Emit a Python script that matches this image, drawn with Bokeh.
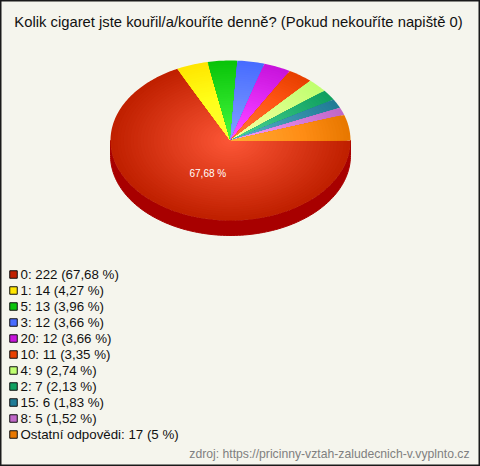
import numpy as np
from bokeh.plotting import figure
from bokeh.models import Range1d
from bokeh.embed import file_html
from bokeh.resources import INLINE
from bokeh.core.properties import value

TITLE = "Kolik cigaret jste kouřil/a/kouříte denně? (Pokud nekouříte napiště 0)"
SOURCE = "zdroj: https://pricinny-vztah-zaludecnich-v.vyplnto.cz"
categories = ["0", "1", "5", "3", "20", "10", "4", "2", "15", "8", "Ostatní odpovědi"]
counts = [222, 14, 13, 12, 12, 11, 9, 7, 6, 5, 17]
percents = ["67,68", "4,27", "3,96", "3,66", "3,66", "3,35", "2,74", "2,13", "1,83", "1,52", "5"]
colors = [(192, 32, 0), (255, 230, 0), (10, 196, 10), (72, 108, 255), (200, 20, 220), (232, 64, 0),
          (192, 255, 112), (16, 160, 96), (32, 124, 150), (192, 104, 200), (232, 120, 0)]
RIM = "#a80000"
BG = "#f5f5ed"

W, H = 480, 466
CX, CY, RX, RY, DEPTH = 230, 140, 120, 80, 15
STEPS = 36
LIFT = (62, 56, 56)

p = figure(width=W, height=H, output_backend="svg", toolbar_location=None,
           x_range=Range1d(0, W), y_range=Range1d(H, 0),
           min_border=0, border_fill_color=BG, background_fill_color=BG,
           outline_line_color="#1a1a1a", outline_line_width=2)
p.axis.visible = False
p.grid.visible = False

# side of the pie
t = np.linspace(0, np.pi, 120)
xs_rim = np.concatenate([CX + RX * np.cos(t), (CX + RX * np.cos(t))[::-1]])
ys_rim = np.concatenate([CY + DEPTH + RY * np.sin(t), (CY + RY * np.sin(t))[::-1]])
p.patch(xs_rim, ys_rim, fill_color=RIM, line_color=RIM, line_width=1)

# slices, clockwise from 3 o'clock, each shaded from rim to centre
ang = np.concatenate([[0], np.cumsum(counts)]) / sum(counts) * 2 * np.pi
px, py, pc = [], [], []
for i, c in enumerate(colors):
    a = np.linspace(ang[i], ang[i + 1], max(3, int((ang[i + 1] - ang[i]) * 60)))
    for s in range(STEPS):
        r = 1 - s / STEPS
        k = 1 - r
        col = tuple(int(min(255, c[j] + LIFT[j] * k)) for j in range(3))
        px.append(np.concatenate([[CX], CX + r * RX * np.cos(a)]))
        py.append(np.concatenate([[CY], CY + r * RY * np.sin(a)]))
        pc.append("#%02x%02x%02x" % col)
p.patches(px, py, fill_color=pc, line_color=None)

FONT = value("Liberation Sans")
p.text([189], [173], text=[percents[0] + " %"], text_color="#ffffff",
       text_font=FONT, text_font_size="10px", text_baseline="middle")
p.text([238], [21], text=[TITLE], text_color="#111111", text_font=FONT,
       text_font_size="14.8px", text_align="center", text_baseline="middle")

# legend
labels = [f"{a}: {b} ({c} %)" for a, b, c in zip(categories, counts, percents)]
ly = [274 + 16 * i for i in range(len(labels))]
p.rect([13] * len(labels), ly, width=7.5, height=7.5,
       fill_color=["#%02x%02x%02x" % c for c in colors], line_color="#111111", line_width=1)
p.text([20] * len(labels), ly, text=labels, text_color="#111111", text_font=FONT,
       text_font_size="13.3px", text_baseline="middle")

p.text([469], [453], text=[SOURCE], text_color="#808080", text_font=FONT,
       text_font_size="12.2px", text_align="right", text_baseline="middle")

open("out.html", "w").write(file_html(p, INLINE))
